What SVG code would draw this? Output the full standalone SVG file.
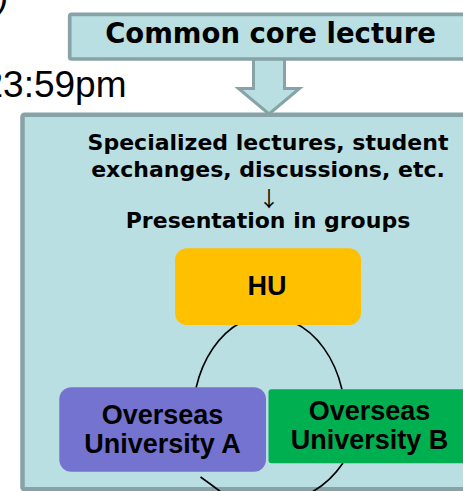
<svg xmlns="http://www.w3.org/2000/svg" width="463" height="491" viewBox="0 0 463 491">
<style>
.frame{fill:#b9dfe3;stroke:#87a3a7}
.mid{font-family:"DejaVu Sans",Verdana,sans-serif;font-weight:bold;fill:#000;text-anchor:middle}
.node{font-family:"Liberation Sans",Arial,sans-serif;font-weight:bold;font-size:27px;fill:#000;text-anchor:middle}
.plain{font-family:"Liberation Sans",Arial,sans-serif;font-size:37px;fill:#000}
.arc{fill:none;stroke:#000;stroke-width:1.6}
</style>
<rect width="463" height="491" fill="#ffffff"/>
<g id="bg-text">
<text class="plain" x="-4" y="7">)</text>
<text class="plain" x="126.5" y="97" text-anchor="end">23:59pm</text>
</g>
<g id="frame">
<rect class="frame" x="22.5" y="114.7" width="470" height="374.5" rx="2" stroke-width="4.5"/>
<text class="mid" x="268" y="150" font-size="22">Specialized lectures, student</text>
<text class="mid" x="268" y="177" font-size="22">exchanges, discussions, etc.</text>
<text x="269" y="206" font-family="'Noto Sans CJK JP',sans-serif" font-size="21" text-anchor="middle">↓</text>
<text class="mid" x="268" y="228" font-size="22">Presentation in groups</text>
</g>
<g id="arrow">
<path class="frame" stroke-width="3" stroke-linejoin="miter" d="M253.5,57 L253.5,88.5 L238.5,88.5 L269,114 L299.5,88.5 L284.5,88.5 L284.5,57 Z"/>
</g>
<g id="common">
<rect class="frame" x="69.7" y="14.3" width="420" height="44.7" rx="2" stroke-width="3.7"/>
<text class="mid" x="270.5" y="43" font-size="27.5">Common core lecture</text>
</g>
<g id="connectors">
<path class="arc" d="M240.7,322.5 A77,103 0 0,0 196,388"/>
<path class="arc" d="M294,322.5 A77,103 0 0,1 342,389.5"/>
<path class="arc" d="M343,463 Q330,482 312,492"/>
<path class="arc" d="M200.5,477 Q209,483 221,492"/>
</g>
<g id="hu">
<rect x="175" y="248.3" width="186" height="76.7" rx="12" fill="#ffc000"/>
<text class="node" x="267" y="295">HU</text>
</g>
<g id="univ-a">
<rect x="59.3" y="387.3" width="206.7" height="84.4" rx="12" fill="#7473d0"/>
<text class="node" x="162.5" y="424.3">Overseas</text>
<text class="node" x="162.5" y="452.7">University A</text>
</g>
<g id="univ-b">
<rect x="268.5" y="389.3" width="210" height="74" rx="3" fill="#00b050"/>
<text class="node" x="369.5" y="420">Overseas</text>
<text class="node" x="369.5" y="449.3">University B</text>
</g>
</svg>
